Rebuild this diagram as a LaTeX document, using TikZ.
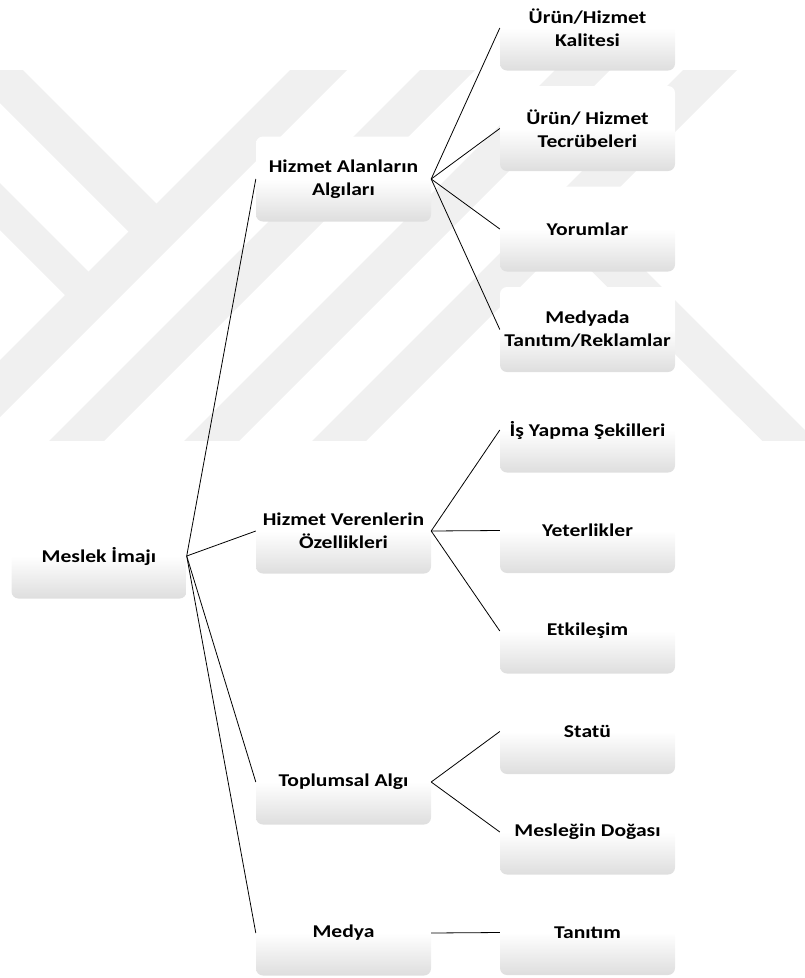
\documentclass[tikz,border=0pt]{standalone}
\usepackage{fontspec}
\setmainfont{Carlito}[FakeStretch=1.2]
\tikzset{
  kutu/.style={rectangle, rounded corners=7pt, align=center, draw=none,
               top color=white, bottom color=black!13, middle color=white,
               minimum width=175pt, minimum height=85pt, inner sep=2pt,
               font=\bfseries\fontsize{18}{23}\selectfont},
  bag/.style={line width=0.8pt, draw=black},
  iz/.style={fill=black!6, draw=none},
}

\begin{document}
\begin{tikzpicture}[x=1pt, y=-1pt]
  \useasboundingbox (0,0) rectangle (805,978);
  % watermark in the background
  \begin{scope}
    \clip (0,70) rectangle (805,440);
    \fill[iz] (-60,-13) -- (170.5,217.5) -- (142.5,245.5) -- (-60,43) -- cycle;
    \fill[iz] (-60,123) -- (102.5,285.5) -- (79,309) -- (-60,170) -- cycle;
    \fill[iz] (360,0) -- (417,0) -- (-83,500) -- (-140,500) -- cycle;
    \fill[iz] (490,0) -- (545,0) -- (45,500) -- (-10,500) -- cycle;
    \fill[iz] (625,0) -- (680,0) -- (180,500) -- (125,500) -- cycle;
    \fill[iz] (753,0) -- (807,0) -- (307,500) -- (253,500) -- cycle;
    \fill[iz] (577.5,202.5) -- (900,525) -- (850,528) -- (550,230) -- cycle;
  \end{scope}

  \node[kutu] (imaj)   at (99,556)    {Meslek İmajı};

  \node[kutu] (alan)   at (343.5,179) {Hizmet Alanların\\Algıları};
  \node[kutu] (veren)  at (343.5,531) {Hizmet Verenlerin\\Özellikleri};
  \node[kutu] (toplum) at (343.5,782) {Toplumsal Algı};
  \node[kutu] (medya)  at (343.5,933) {Medya};

  \node[kutu] (kalite)    at (587.5,28)    {Ürün/Hizmet\\Kalitesi};
  \node[kutu] (tecrube)   at (587.5,128.5) {Ürün/ Hizmet\\Tecrübeleri};
  \node[kutu] (yorum)     at (587.5,229)   {Yorumlar};
  \node[kutu] (reklam)    at (587.5,329.5) {Medyada\\Tanıtım/Reklamlar};
  \node[kutu] (isyapma)   at (587.5,430)   {İş Yapma Şekilleri};
  \node[kutu] (yeterlik)  at (587.5,530.5) {Yeterlikler};
  \node[kutu] (etkilesim) at (587.5,631)   {Etkileşim};
  \node[kutu] (statu)     at (587.5,731.5) {Statü};
  \node[kutu] (doga)      at (587.5,832)   {Mesleğin Doğası};
  \node[kutu] (tanitim)   at (587.5,932.5) {Tanıtım};

  \foreach \b in {alan, veren, toplum, medya}
    \draw[bag] (imaj.east) -- (\b.west);
  \foreach \b in {kalite, tecrube, yorum, reklam}
    \draw[bag] (alan.east) -- (\b.west);
  \foreach \b in {isyapma, yeterlik, etkilesim}
    \draw[bag] (veren.east) -- (\b.west);
  \foreach \b in {statu, doga}
    \draw[bag] (toplum.east) -- (\b.west);
  \draw[bag] (medya.east) -- (tanitim.west);
\end{tikzpicture}
\end{document}
